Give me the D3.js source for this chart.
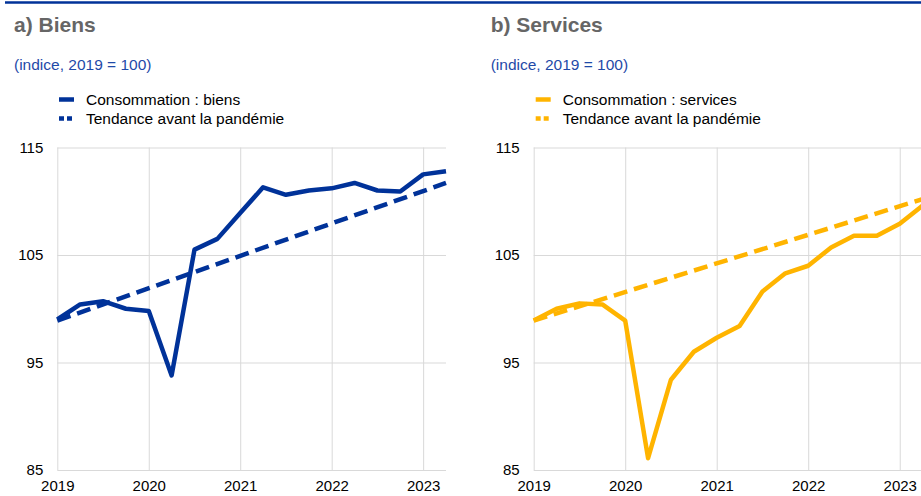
<!DOCTYPE html>
<html>
<head>
<meta charset="utf-8">
<script src="https://cdn.jsdelivr.net/npm/d3@7"></script>
<style>
  body { margin: 0; background: #fff; }
  svg { display: block; font-family: "Liberation Sans", Arial, sans-serif; }
</style>
</head>
<body>
<script>
// quarterly observations, Q1 2019 .. Q2 2023
const quarters = [
  "2019-Q1", "2019-Q2", "2019-Q3", "2019-Q4",
  "2020-Q1", "2020-Q2", "2020-Q3", "2020-Q4",
  "2021-Q1", "2021-Q2", "2021-Q3", "2021-Q4",
  "2022-Q1", "2022-Q2", "2022-Q3", "2022-Q4",
  "2023-Q1", "2023-Q2",
];
const goods = [
  99.0, 100.4, 100.7, 100.0, 99.8, 93.8, 105.5, 106.5,
  108.9, 111.3, 110.6, 111.0, 111.2, 111.7, 111.0, 110.9,
  112.5, 112.8,
];
const services = [
  98.9, 100.0, 100.5, 100.4, 98.9, 86.1, 93.4, 96.0,
  97.3, 98.4, 101.6, 103.3, 104.0, 105.7, 106.8, 106.8,
  107.9, 109.6,
];
// pre-pandemic trend lines (straight, first and last quarter)
const trendQuarters = ["2019-Q1", "2023-Q2"];
const goodsTrend = [98.9, 111.7];
const servicesTrend = [98.9, 110.2];

const yearTicks = [2019, 2020, 2021, 2022, 2023];
const valueTicks = [85, 95, 105, 115];

const BLUE = "#003299";
const YELLOW = "#ffb400";

const panels = [
  {
    title: "a) Biens", left: 14, x0: 57.3, x1: 446,
    color: BLUE, values: goods, trend: goodsTrend,
    label: "Consommation : biens",
  },
  {
    title: "b) Services", left: 490.7, x0: 533.7, x1: 922.6,
    color: YELLOW, values: services, trend: servicesTrend,
    label: "Consommation : services",
  },
];

const width = 921, height = 496;
const plotTop = 147.5, plotBottom = 470;

const svg = d3.select("body").append("svg")
  .attr("width", width)
  .attr("height", height);

// top rule
svg.append("line")
  .attr("x1", 5).attr("x2", width)
  .attr("y1", 2.5).attr("y2", 2.5)
  .attr("stroke", BLUE)
  .attr("stroke-width", 2.5);

function qToYear(q) {
  const [yr, qq] = q.split("-Q");
  return +yr + (+qq - 1) / 4;
}

const y = d3.scaleLinear().domain([85, 115]).range([plotBottom, plotTop]);

panels.forEach(function (p) {
  const g = svg.append("g");
  const x = d3.scaleLinear()
    .domain([2019, 2023.25])
    .range([p.x0, p.x1]);

  g.append("text")
    .attr("x", p.left).attr("y", 32)
    .attr("font-size", 21).attr("font-weight", "bold")
    .attr("fill", "#666")
    .text(p.title);

  g.append("text")
    .attr("x", p.left).attr("y", 70)
    .attr("font-size", 15.5)
    .attr("fill", "#1f4aa8")
    .text("(indice, 2019 = 100)");

  // legend
  const lx = p.left + 45;
  const leg = [
    { label: p.label, dash: null, cy: 99.5 },
    { label: "Tendance avant la pandémie", dash: "5,3", cy: 118.5 },
  ];
  leg.forEach(function (d) {
    g.append("line")
      .attr("x1", lx).attr("x2", lx + 15)
      .attr("y1", d.cy).attr("y2", d.cy)
      .attr("stroke", p.color)
      .attr("stroke-width", 4.5)
      .attr("stroke-dasharray", d.dash);
    g.append("text")
      .attr("x", lx + 27).attr("y", d.cy + 5.5)
      .attr("font-size", 15.5)
      .attr("fill", "#000")
      .text(d.label);
  });

  // y axis + horizontal grid
  const yAxis = g.append("g")
    .attr("transform", `translate(${p.x0},0)`)
    .call(d3.axisLeft(y)
      .tickValues(valueTicks)
      .tickSize(-(p.x1 - p.x0))
      .tickPadding(14));

  // x axis + vertical grid
  const xAxis = g.append("g")
    .attr("transform", `translate(0,${plotBottom})`)
    .call(d3.axisBottom(x)
      .tickValues(yearTicks)
      .tickFormat(d3.format("d"))
      .tickSize(-(plotBottom - plotTop))
      .tickPadding(10));

  [yAxis, xAxis].forEach(function (a) {
    a.select(".domain").remove();
    a.selectAll(".tick line").attr("stroke", "#d9d9d9").attr("stroke-width", 1);
    a.selectAll(".tick text")
      .attr("fill", "#000")
      .attr("font-size", 15)
      .attr("font-family", "Liberation Sans, Arial, sans-serif");
  });

  const line = d3.line()
    .x(function (d) { return x(qToYear(d.q)); })
    .y(function (d) { return y(d.v); });

  g.append("path")
    .datum(trendQuarters.map(function (q, i) { return { q: q, v: p.trend[i] }; }))
    .attr("d", line)
    .attr("fill", "none")
    .attr("stroke", p.color)
    .attr("stroke-width", 4.5)
    .attr("stroke-dasharray", "14,7");

  g.append("path")
    .datum(quarters.map(function (q, i) { return { q: q, v: p.values[i] }; }))
    .attr("d", line)
    .attr("fill", "none")
    .attr("stroke", p.color)
    .attr("stroke-width", 4.5)
    .attr("stroke-linejoin", "round");
});
</script>
</body>
</html>
